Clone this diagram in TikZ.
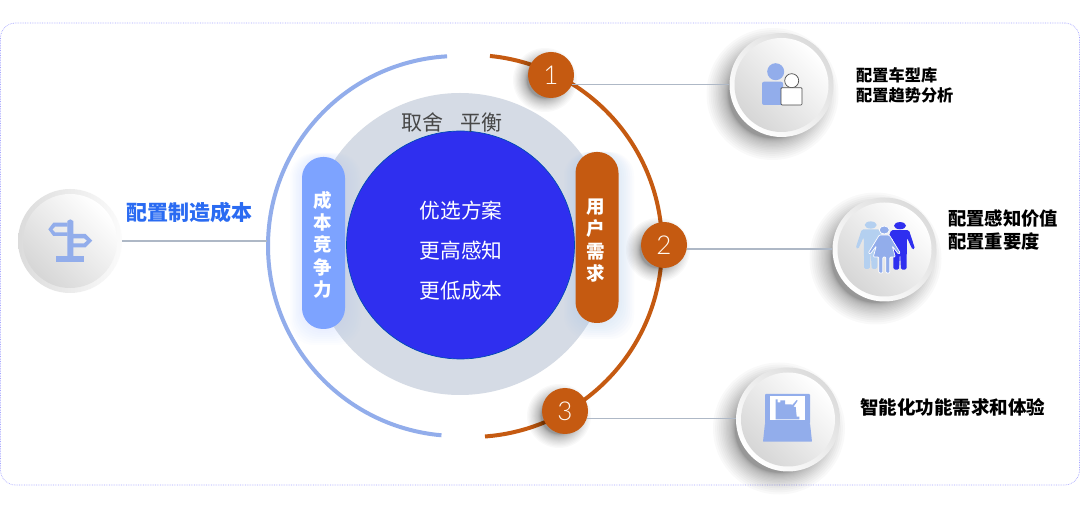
\documentclass[tikz,border=0pt]{standalone}
\usepackage{fontspec}
\setmainfont{Noto Sans CJK SC}
\newfontfamily\numfont{Lato Light}
\usetikzlibrary{calc}
\definecolor{orng}{HTML}{C55A11}
\definecolor{peri}{HTML}{92ADEB}
\definecolor{pillblue}{HTML}{7DA3FF}
\definecolor{deepblue}{HTML}{2F2FEF}
\definecolor{pale}{HTML}{D5DBE5}
\definecolor{linec}{HTML}{AEB8C6}
\definecolor{labelblue}{HTML}{2A6BF2}
\definecolor{skyf}{HTML}{B4D0F0}
% x y base-radius extent
\newcommand{\softshadow}[4]{%
  \foreach \k in {1,...,20}{
    \fill[black,opacity=0.024] (#1,#2) circle[radius={(#3)+(#4)*(\k/20)*(\k/20)}];
  }}
\newcommand{\manshape}{(-9,-4.5) -- (9,-4.5) -- (15,-23) -- (12.5,-24) -- (7,-12) -- (6.5,-44) -- (1,-44) -- (0,-26) -- (-1,-44) -- (-6.5,-44) -- (-7,-12) -- (-12.5,-24) -- (-15,-23) -- cycle}
\tikzset{
  icon/.style={circle,minimum size=104pt,inner sep=0pt,left color=gray!28,right color=white,shading angle=-45},
  inner disk/.style={circle,left color=white,right color=gray!32,shading angle=-45},
  numc/.style={circle,fill=orng,minimum size=46pt,inner sep=0pt,text=white!95!orange,font=\numfont\fontsize{26}{26}\selectfont},
  pill/.style={rectangle,rounded corners=21pt,minimum width=43pt,inner sep=0pt},
  pilltext/.style={inner sep=0pt,text=white,align=center,font=\bfseries\fontsize{18.5}{22.3}\selectfont},
  lab/.style={inner sep=0pt,align=left,text=black},
  conn/.style={draw=linec,line width=1.1pt},
  center text/.style={inner sep=0pt,text=white,font=\fontsize{20.7}{20.7}\selectfont},
}
\begin{document}
\begin{tikzpicture}[x=1pt,y=1pt]
\useasboundingbox (0,0) rectangle (1080,-521);
\fill[white] (0,0) rectangle (1080,-521);
% frame
\node[draw=blue!35,densely dotted,line width=.7pt,rounded corners=15pt,minimum width=1079pt,minimum height=462pt,inner sep=0pt] (frame) at (540,-254) {};
% central discs
\node[circle,fill=pale,minimum size=302pt,inner sep=0pt] (gray) at (460,-244) {};
\foreach \k in {1,...,8}{
  \fill[pillblue!60,opacity=.03,rounded corners=24pt] ({302-\k*1.5},{-157+\k*0.5}) rectangle ({345+\k*2},{-329-\k*2});
  \fill[skyf,opacity=.05,rounded corners=24pt] ({576-\k*1.5},{-152}) rectangle ({618+\k*2},{-323-\k*2});
}
\node[circle,fill=deepblue,draw=teal!60!blue,line width=.7pt,minimum size=228pt,inner sep=0pt] (core) at (460.5,-245) {};
\node[inner sep=0pt,text=black!72,font=\fontsize{21}{21}\selectfont] (trade) at (452,-122) {取舍\hspace{.8em}平衡};
\node[center text] (t1) at (461,-211) {优选方案};
\node[center text] (t2) at (461,-251) {更高感知};
\node[center text] (t3) at (461,-291) {更低成本};
% pills
\node[pill,fill=pillblue,minimum height=172pt] (cost) at (323.5,-243) {};
\node[pill,fill=orng,minimum height=171pt] (need) at (597,-237.5) {};
\node[pilltext] (costt) at (322.5,-244.6) {成\\本\\竞\\争\\力};
\node[pilltext] (needt) at (596,-240.5) {用\\户\\需\\求};
% arcs
\draw[peri,line width=4pt,shift={(458,-246)}] (93.3:190) arc[start angle=93.3,end angle=265,radius=190pt];
\draw[orng,line width=4pt,shift={(471,-246)}] (84.3:191) arc[start angle=84.3,end angle=-85.8,radius=191pt];
% shadows
\softshadow{545}{-80}{18}{14}
\softshadow{559}{-416}{18}{14}
\softshadow{658}{-250}{18}{14}
\softshadow{772.5}{-94}{44}{22}
\softshadow{875.5}{-258.5}{44}{22}
\softshadow{779}{-428.5}{44}{22}
% numbered
\node[numc] (n1) at (551,-75) {1};
\node[numc] (n2) at (664,-245) {2};
\node[numc] (n3) at (565,-411) {3};
% icon discs
\node[icon,right color=gray!3] (i0) at (70,-241) {};
\node[icon] (i1) at (781.5,-85) {};
\node[icon] (i2) at (884.5,-249.5) {};
\node[icon] (i3) at (788,-419.5) {};
\foreach \n in {0,1,2,3}{
  \node[inner disk,minimum size=94pt,inner sep=0pt] at (i\n) {};
}
% connectors
\coordinate (a0) at (267,-241);
\draw[conn] (i0.east) -- (a0);
\draw[conn] (n1.-25) -- (n1.-25 -| i1.west);
\draw[conn] (n2.-10) -- (n2.-10 -| i2.west);
\draw[conn] (n3.-18) -- (n3.-18 -| i3.west);
% labels
\node[inner sep=0pt,text=labelblue,font=\bfseries\fontsize{21}{21}\selectfont] (l0) at (189,-213) {配置制造成本};
\node[lab,font=\bfseries\fontsize{16.2}{20}\selectfont,anchor=west] (l1) at (856,-85) {配置车型库\\配置趋势分析};
\node[lab,font=\bfseries\fontsize{18.3}{23}\selectfont,anchor=west] (l2) at (948,-230) {配置感知价值\\配置重要度};
\node[lab,font=\bfseries\fontsize{18.5}{22}\selectfont,anchor=west] (l3) at (860,-407) {智能化功能需求和体验};
% signpost icon
\fill[peri] (55.7,-255.7) rectangle (84.3,-261.7);
\fill[peri] (67.3,-256) -- (67.3,-221) -- (70.3,-219.3) -- (73.3,-221) -- (73.3,-256) -- cycle;
\fill[peri,even odd rule] (67.5,-222.7) -- (53.3,-222.7) -- (48.3,-229.3) -- (53.3,-236) -- (67.5,-236) -- cycle
  (67.5,-226.7) -- (55,-226.7) -- (52.5,-229.5) -- (55,-232.3) -- (67.5,-232.3) -- cycle;
\fill[peri,even odd rule] (73,-234) -- (85.7,-234) -- (92.3,-240.7) -- (85.7,-247.3) -- (73,-247.3) -- cycle
  (73,-238.3) -- (84,-238.3) -- (87,-240.7) -- (84,-243.3) -- (73,-243.3) -- cycle;
% person icon
\fill[peri] (775.7,-71.7) circle[radius=8.5];
\fill[peri,rounded corners=2pt] (762,-81.7) rectangle (783,-105);
\draw[fill=white,draw=black!70,line width=.7pt] (791.7,-80.7) circle[radius=7];
\draw[fill=white,draw=black!70,line width=.7pt,rounded corners=1pt] (781,-87.7) rectangle (802,-105);
% family icon
\begin{scope}[shift={(870.7,-225)}]
\fill[skyf] (0,0) ellipse[x radius=6,y radius=3.6];
\fill[skyf,rounded corners=1.5pt] \manshape;
\end{scope}
\begin{scope}[shift={(900,-225.7)}]
\fill[deepblue] (0,0) ellipse[x radius=6,y radius=3.6];
\fill[deepblue,rounded corners=1.5pt] \manshape;
\end{scope}
\begin{scope}[shift={(884.3,-230)}]
\draw[fill=peri,draw=white,line width=.7pt] (0,0) ellipse[x radius=5,y radius=4];
\draw[fill=peri,draw=white,line width=.7pt,rounded corners=1pt] (-5,-5) -- (5,-5) -- (16,-23) -- (14,-24) -- (8,-16) -- (11,-27) -- (5.5,-27) -- (5.5,-43) -- (1.5,-43) -- (1.5,-27) -- (-1.5,-27) -- (-1.5,-43) -- (-5.5,-43) -- (-5.5,-27) -- (-11,-27) -- (-8,-16) -- (-14,-24) -- (-16,-23) -- cycle;
\end{scope}
% laptop icon
\fill[peri,rounded corners=.8pt] (765,-394) rectangle (810,-423.5);
\fill[white] (770,-396) rectangle (805,-420);
\fill[peri] (775.7,-399.3) -- (777.7,-399.3) -- (777.7,-402.3) -- (780.3,-402.3) -- (780.3,-400.3) -- (785,-400.3) -- (785,-404.3) -- (791,-404.3) -- (792.3,-405) -- (796.7,-400) -- (797.7,-400.7) -- (793.3,-407) -- (795.7,-407) -- (796.7,-416.7) -- (799.3,-416.7) -- (799.3,-419.3) -- (775.7,-419.3) -- cycle;
\fill[peri,rounded corners=.6pt] (765,-423) -- (810,-423) -- (812,-441.7) -- (763,-441.7) -- cycle;
\end{tikzpicture}
\end{document}
